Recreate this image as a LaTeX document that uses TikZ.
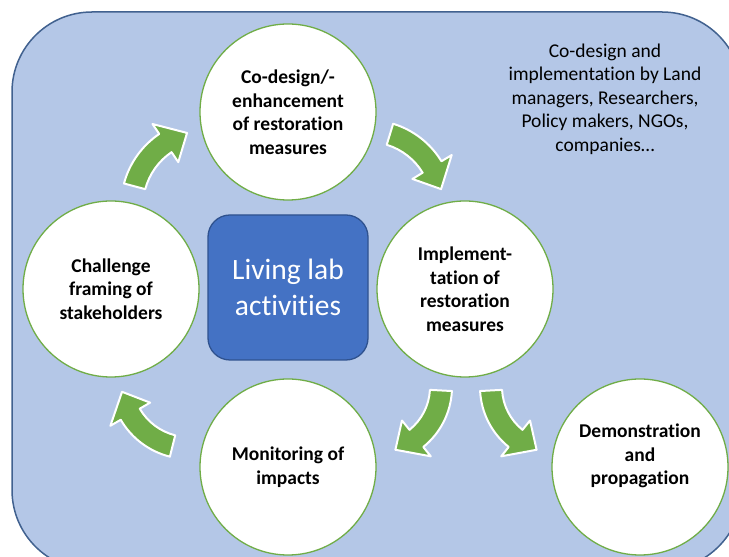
\documentclass[tikz,border=0pt]{standalone}
\usepackage{fontspec}
\setmainfont{Carlito}[Ligatures=NoCommon]
\usepackage{tikz}

\definecolor{panelblue}{HTML}{B4C7E7}
\definecolor{paneledge}{HTML}{41618F}
\definecolor{hubblue}{HTML}{4472C4}
\definecolor{hubedge}{HTML}{2F528F}
\definecolor{leafgreen}{HTML}{70AD47}

\begin{document}
\begin{tikzpicture}[x=1pt,y=1pt]

\useasboundingbox (0,0) rectangle (729,557);

\tikzset{StageStyle/.style = {circle, minimum size=176pt, inner sep=0pt, fill=white,
            draw=leafgreen, line width=1.3pt, align=center,
            font=\fontsize{19.5}{23.5}\selectfont\bfseries},
         StageText/.style = {inner sep=0pt, align=center,
            font=\fontsize{19.5}{23.5}\selectfont\bfseries},
         HubStyle/.style = {rectangle, rounded corners=22pt, minimum width=160pt,
            minimum height=145pt, fill=hubblue, draw=hubedge, line width=1.3pt,
            text=white, align=center, font=\fontsize{29.5}{35.5}\selectfont},
         NoteStyle/.style = {inner sep=0pt, align=center,
            font=\fontsize{19.5}{23.5}\selectfont},
         ArrowStyle/.style = {fill=leafgreen, draw=white, line width=2pt, line join=round},
         pics/Bend/.style n args={3}{code={
            \pgfmathsetmacro\headang{#3-sign(#3-#2)*24/#1*57.3}
            \pgfmathsetmacro\rout{#1+11}
            \pgfmathsetmacro\rin{#1-11}
            \pgfmathsetmacro\wingout{#1+23}
            \pgfmathsetmacro\wingin{#1-23}
            \path[ArrowStyle] (#2:\rout) arc[start angle=#2, end angle=\headang, radius=\rout]
               -- (\headang:\wingout) -- (#3:#1) -- (\headang:\wingin) -- (\headang:\rin)
               arc[start angle=\headang, end angle=#2, radius=\rin] -- cycle;
         }}}

\draw[fill=panelblue, draw=paneledge, line width=1.5pt, rounded corners=80pt]
   (12,-13) rectangle (742,545);

\node[HubStyle] (hub) at (288,269.5) {Living lab\\activities};

\node[StageStyle] (design) at (288,445) {Co-design/-\\enhancement\\of restoration\\measures};
\node[StageStyle] (impl) at (465,268) {Implement-\\tation of\\restoration\\measures};
\node[StageStyle] (monitor) at (288,90) {Monitoring of\\impacts};
\node[StageStyle] (frame) at (111,268) {Challenge\\framing of\\stakeholders};
\node[StageStyle] (demo) at (640,90) {};
\node[StageText] (demotext) at ([yshift=11pt]demo.center) {Demonstration\\and\\propagation};

\node[NoteStyle] (partners) at (605,458) {Co-design and\\implementation by Land\\managers, Researchers,\\Policy makers, NGOs,\\companies…};

\pic at (208,351) {Bend={76}{165}{106}};
\pic at (368,351) {Bend={75}{73}{13}};
\pic at (375,170) {Bend={66}{-3}{-72}};
\pic at (557,170) {Bend={66}{183}{252}};
\pic at (189,177) {Bend={68}{256}{190}};

\end{tikzpicture}
\end{document}
